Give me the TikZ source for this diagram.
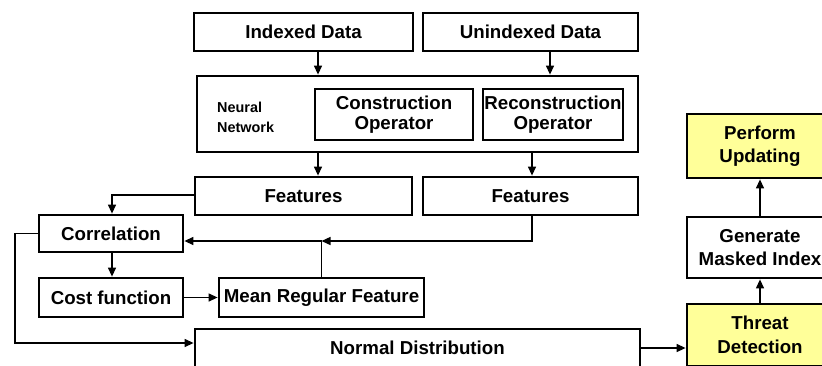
\documentclass[tikz,border=0pt]{standalone}
\usepackage{fontspec}
\setmainfont{Liberation Sans}
\usetikzlibrary{arrows.meta,calc}

\definecolor{hilite}{RGB}{255,255,153}

\tikzset{
  box/.style={draw=black, line width=2.8pt, rectangle, inner sep=0pt,
    align=center, font=\fontsize{18.7}{23.5}\selectfont\bfseries},
  tight/.style={font=\fontsize{18.7}{19.5}\selectfont\bfseries},
  hot/.style={fill=hilite},
  link/.style={line width=1.3pt},
  arr/.style={link, -{Triangle[length=9pt,width=8pt]}},
}

\begin{document}
\begin{tikzpicture}[x=1pt,y=-1pt]
\clip (0,0) rectangle (822,365);

% inputs
\node[box, minimum width=219, minimum height=38] (idx)   at (303.5,32) {Indexed Data};
\node[box, minimum width=215, minimum height=38] (unidx) at (530.5,32) {Unindexed Data};

% neural network block
\node[box, minimum width=441, minimum height=76] (nn) at (417.5,114) {};
\node[anchor=west, inner sep=0pt, align=left,
      font=\fontsize{14.4}{20}\selectfont\bfseries] (nnlbl) at (217,117) {Neural\\Network};
\node[box, tight, minimum width=158, minimum height=51] (cons)   at (394,114.5) {Construction\\Operator};
\node[box, tight, minimum width=140, minimum height=51] (recons) at (553,114.5) {Reconstruction\\Operator};

% feature stage
\node[box, minimum width=217, minimum height=38] (featL) at (303.5,196) {Features};
\node[box, minimum width=215, minimum height=38] (featR) at (530.5,196) {Features};

\node[box, minimum width=144, minimum height=37] (corr) at (111,233.5) {Correlation};
\node[box, minimum width=144, minimum height=39] (cost) at (111,297.5) {Cost function};
\node[box, minimum width=205, minimum height=39] (mean) at (321.5,297.5) {Mean Regular Feature};
\node[box, minimum width=445, minimum height=38] (normal) at (417.5,348) {Normal Distribution};

% right column
\node[box, hot, minimum width=146, minimum height=64] (perf)   at (760,146) {Perform\\Updating};
\node[box,      minimum width=146, minimum height=61] (gen)    at (760,247.5) {Generate\\Masked Index};
\node[box, hot, minimum width=146, minimum height=62] (threat) at (760,335) {Threat\\Detection};

% connectors
\draw[arr] ([xshift=14.5pt]idx.south) -- ([xshift=14.5pt]idx.south |- nn.north);
\draw[arr] ([xshift=19.5pt]unidx.south) -- ([xshift=19.5pt]unidx.south |- nn.north);
\draw[arr] ([xshift=14.5pt]featL.north |- nn.south) -- ([xshift=14.5pt]featL.north);
\draw[arr] ([xshift=1.5pt]featR.north |- nn.south) -- ([xshift=1.5pt]featR.north);

\draw[arr] ([yshift=1pt]featL.west) -| ([xshift=1pt]corr.north);
\draw[arr] ([xshift=1pt]corr.south) -- ([xshift=1pt]cost.north);
\draw[arr] (cost.east) -- (mean.west);

\coordinate (join) at (321.5,241);
\draw[arr] ([xshift=1.5pt]featR.south) |- (join);
\draw[link] (mean.north) -- (join);
\draw[arr] (join) -- (join -| corr.east);

\coordinate (bend) at (15,343);
\draw[arr] (corr.west) -| (bend) -- (bend -| normal.west);

\draw[arr] (normal.east) -- (normal.east -| threat.west);
\draw[arr] (threat.north) -- (gen.south);
\draw[arr] (gen.north) -- (perf.south);
\end{tikzpicture}
\end{document}
